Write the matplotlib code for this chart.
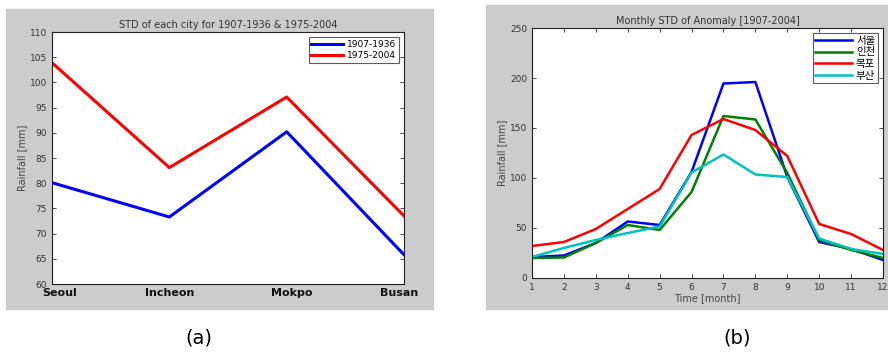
import numpy as np
import matplotlib
matplotlib.use("Agg")
import matplotlib.pyplot as plt
import matplotlib.transforms as mtransforms
from matplotlib.patches import Rectangle

plt.rcParams['font.family'] = ['DejaVu Sans', 'Noto Sans CJK KR']

# (a) STD of each city
cities = ["Seoul", "Incheon", "Mokpo", "Busan"]
std_1907_1936 = [80.1, 73.3, 90.2, 65.8]
std_1975_2004 = [103.9, 83.1, 97.1, 73.5]

# (b) monthly STD of anomaly
months = list(range(1, 13))
seoul = [21, 22.5, 35, 56.5, 53, 106, 194.5, 196, 101, 36, 29, 18]
incheon = [20, 20.5, 35, 53, 48, 86, 162, 158.5, 105, 38, 28, 20]
mokpo = [32, 36, 49, 69, 89, 143, 159, 148, 122, 54, 44, 28]
busan = [21, 30, 38, 45, 51.5, 105.5, 123.5, 103.5, 101, 39.5, 29, 24]
city_labels_kr = ["서울", "인천", "목포", "부산"]

gray = "#cccccc"
fig = plt.figure(figsize=(8.88, 3.54), dpi=100)

# gray panel backgrounds (MATLAB figure colour)
fig.patches.append(Rectangle((0.0068, 0.127), 0.481, 0.848, transform=fig.transFigure,
                             color=gray, zorder=-10))
fig.patches.append(Rectangle((0.5473, 0.127), 0.4527, 0.859, transform=fig.transFigure,
                             color=gray, zorder=-10))


def matlab_style(ax):
    ax.tick_params(direction='in', length=3, width=0.6, labelsize=6.5,
                   colors='#333333', top=True, right=True)
    for s in ax.spines.values():
        s.set_linewidth(0.8)
        s.set_color('#222222')


# panel (a)
ax1 = fig.add_axes([0.0586, 0.1977, 0.3964, 0.7119])
ax1.plot(range(1, 5), std_1907_1936, color='blue', lw=2.2, label='1907-1936')
ax1.plot(range(1, 5), std_1975_2004, color='red', lw=2.2, label='1975-2004')
ax1.set_xlim(1, 4)
ax1.set_ylim(60, 110)
ax1.set_yticks(range(60, 111, 5))
matlab_style(ax1)
ax1.set_xticks(range(1, 5))
ax1.set_xticklabels(cities, fontsize=8, fontweight='bold', color='#111111')
ax1.tick_params(axis='x', length=0, pad=3)
# nudge the city labels like in the original
for lab, dx in zip(ax1.get_xticklabels(), [8, 0, 5, -5]):
    lab.set_transform(lab.get_transform() +
                      mtransforms.ScaledTranslation(dx / 100, 0, fig.dpi_scale_trans))
ax1.set_ylabel('Rainfall [mm]', fontsize=7, color='#444444', labelpad=2)
ax1.set_title('STD of each city for 1907-1936 & 1975-2004', fontsize=7,
              color='#333333', pad=3)
leg1 = ax1.legend(loc='upper right', fontsize=6.5, frameon=True, fancybox=False,
                  edgecolor='#333333', handlelength=3.5, borderpad=0.3,
                  labelspacing=0.2, handletextpad=0.4, borderaxespad=0.6)
leg1.get_frame().set_linewidth(0.8)

# panel (b)
ax2 = fig.add_axes([0.5991, 0.2147, 0.3953, 0.7062])
ax2.plot(months, seoul, color='blue', lw=1.8, label=city_labels_kr[0])
ax2.plot(months, incheon, color='#008000', lw=1.8, label=city_labels_kr[1])
ax2.plot(months, mokpo, color='red', lw=1.8, label=city_labels_kr[2])
ax2.plot(months, busan, color='#00c0c0', lw=1.8, label=city_labels_kr[3])
ax2.set_xlim(1, 12)
ax2.set_ylim(0, 250)
ax2.set_xticks(months)
ax2.set_yticks(range(0, 251, 50))
matlab_style(ax2)
ax2.set_xlabel('Time [month]', fontsize=7, color='#444444', labelpad=1)
ax2.set_ylabel('Rainfall [mm]', fontsize=7, color='#444444', labelpad=2)
ax2.set_title('Monthly STD of Anomaly [1907-2004]', fontsize=7, color='#333333', pad=3)
leg2 = ax2.legend(loc='upper right', frameon=True, fancybox=False,
                  edgecolor='#333333', handlelength=3.5, borderpad=0.25,
                  labelspacing=0.15, handletextpad=0.4, borderaxespad=0.5,
                  prop={'family': ['Noto Sans CJK KR', 'DejaVu Sans'], 'size': 7.5})
leg2.get_frame().set_linewidth(0.8)

fig.text(0.224, 0.045, '(a)', fontsize=14, ha='center', va='center')
fig.text(0.830, 0.045, '(b)', fontsize=14, ha='center', va='center')

fig.savefig('out.png', dpi=100, facecolor='white')
